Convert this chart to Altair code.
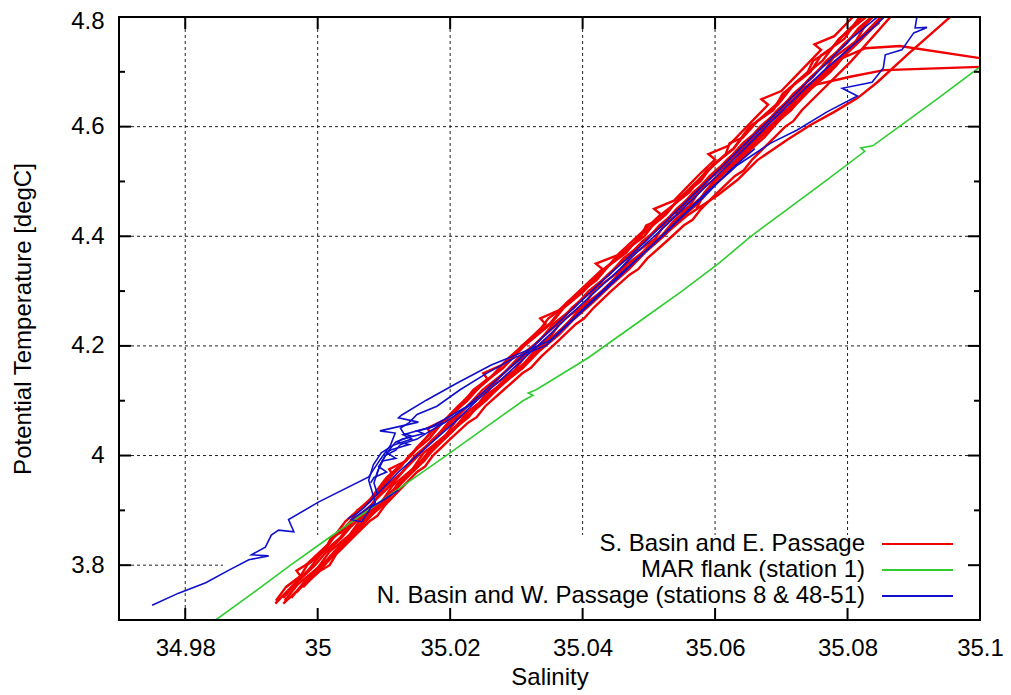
import altair as alt
import pandas as pd

FONT = "Liberation Sans"
W, H = 861, 603

# ---------------- axis / tick definitions ----------------
x_ticks = [34.98, 35.0, 35.02, 35.04, 35.06, 35.08, 35.1]
x_grid = [34.98, 35.0, 35.02, 35.04, 35.06, 35.08]
y_ticks = [3.8, 4.0, 4.2, 4.4, 4.6, 4.8]
y_grid = [3.8, 4.0, 4.2, 4.4, 4.6]
y_minor = [3.9, 4.1, 4.3, 4.5, 4.7]

series_names = [
    "S. Basin and E. Passage",
    "MAR flank (station 1)",
    "N. Basin and W. Passage (stations 8 & 48-51)",
]
series_colors = ["#f00000", "#30cc30", "#1010cc"]

# ---------------- S. Basin and E. Passage (red profiles) ----------------
r1_T = [3.735, 3.76, 3.78, 3.80, 3.83, 3.85, 3.88, 3.90, 3.93, 3.95, 3.98, 4.00, 4.03, 4.06, 4.10, 4.13, 4.16, 4.20, 4.24, 4.27,
        4.30, 4.34, 4.37, 4.40, 4.44, 4.47, 4.50, 4.53, 4.56, 4.60, 4.63, 4.66, 4.70, 4.73, 4.76, 4.80, 4.82]
r1_S = [34.9937, 34.9952, 34.9974, 34.9984, 35.0012, 35.0024, 35.0050, 35.0061, 35.0090, 35.0100, 35.0126, 35.0138, 35.0168,
        35.0188, 35.0226, 35.0248, 35.0280, 35.0312, 35.0352, 35.0372, 35.0402, 35.0432, 35.0466, 35.0486, 35.0526, 35.0546,
        35.0578, 35.0596, 35.0628, 35.0652, 35.0688, 35.0702, 35.0744, 35.0760, 35.0795, 35.0818, 35.0840]

r2_T = [3.74, 3.77, 3.80, 3.82, 3.85, 3.87, 3.90, 3.92, 3.95, 3.97, 4.00, 4.03, 4.06, 4.09, 4.12, 4.15, 4.18, 4.21, 4.24, 4.27,
        4.30, 4.33, 4.36, 4.39, 4.42, 4.45, 4.48, 4.51, 4.54, 4.57, 4.60, 4.63, 4.66, 4.69, 4.72, 4.75, 4.78, 4.81]
r2_S = [34.9948, 34.9970, 34.9996, 35.0010, 35.0036, 35.0050, 35.0075, 35.0088, 35.0114, 35.0128, 35.0152, 35.0174, 35.0202,
        35.0226, 35.0256, 35.0280, 35.0310, 35.0334, 35.0362, 35.0384, 35.0414, 35.0438, 35.0466, 35.0490, 35.0520, 35.0542,
        35.0570, 35.0592, 35.0620, 35.0642, 35.0672, 35.0694, 35.0722, 35.0744, 35.0772, 35.0794, 35.0822, 35.0846]

r3_T = [3.73, 3.76, 3.79, 3.81, 3.84, 3.86, 3.89, 3.91, 3.94, 3.96, 3.99, 4.02, 4.05, 4.08, 4.11, 4.14, 4.17, 4.20, 4.23, 4.26,
        4.29, 4.32, 4.35, 4.38, 4.41, 4.44, 4.47, 4.50, 4.53, 4.56, 4.59, 4.62, 4.65, 4.68, 4.71, 4.74, 4.77, 4.80, 4.82]
r3_S = [34.9948, 34.9975, 34.9996, 35.0014, 35.0036, 35.0054, 35.0076, 35.0092, 35.0116, 35.0130, 35.0156, 35.0176, 35.0206,
        35.0228, 35.0258, 35.0284, 35.0314, 35.0338, 35.0368, 35.0392, 35.0420, 35.0446, 35.0474, 35.0498, 35.0528, 35.0550,
        35.0578, 35.0600, 35.0628, 35.0650, 35.0678, 35.0700, 35.0728, 35.0750, 35.0778, 35.0800, 35.0826, 35.0850, 35.0868]

r4_T = [3.74, 3.77, 3.80, 3.83, 3.86, 3.89, 3.92, 3.95, 3.98, 4.01, 4.04, 4.07, 4.10, 4.13, 4.16, 4.19, 4.22, 4.25, 4.28, 4.31,
        4.34, 4.37, 4.40, 4.43, 4.46, 4.49, 4.52, 4.55, 4.58, 4.61, 4.64, 4.67, 4.70, 4.73, 4.76, 4.79, 4.82]
r4_S = [34.9960, 34.9980, 35.0010, 35.0030, 35.0058, 35.0080, 35.0106, 35.0126, 35.0152, 35.0172, 35.0200, 35.0224, 35.0254,
        35.0278, 35.0310, 35.0334, 35.0364, 35.0388, 35.0416, 35.0442, 35.0470, 35.0494, 35.0522, 35.0546, 35.0574, 35.0596,
        35.0624, 35.0646, 35.0674, 35.0696, 35.0722, 35.0746, 35.0774, 35.0796, 35.0822, 35.0846, 35.0872]

r5_T = [4.10, 4.14, 4.18, 4.22, 4.25, 4.28, 4.31, 4.34, 4.37, 4.40, 4.42, 4.43, 4.46, 4.49, 4.52, 4.55, 4.57, 4.58, 4.61, 4.64,
        4.67, 4.70, 4.72, 4.74, 4.77, 4.80, 4.82]
r5_S = [35.0221, 35.0259, 35.0290, 35.0330, 35.0348, 35.0382, 35.0408, 35.0432, 35.0462, 35.0488, 35.0496, 35.0516, 35.0540,
        35.0564, 35.0590, 35.0616, 35.0622, 35.0642, 35.0664, 35.0692, 35.0712, 35.0740, 35.0748, 35.0774, 35.0796, 35.0822,
        35.0838]

r6_T = [4.810, 4.798, 4.731, 4.681, 4.652, 4.627, 4.603, 4.576, 4.539, 4.503, 4.475, 4.439, 4.393, 4.35, 4.30, 4.25, 4.20,
        4.15, 4.10, 4.05, 4.00, 3.95, 3.90, 3.85, 3.80, 3.76]
r6_S = [35.0966, 35.0953, 35.0890, 35.0845, 35.0815, 35.0780, 35.0744, 35.0709, 35.0664, 35.0634, 35.0604, 35.0559, 35.0514,
        35.0474, 35.0430, 35.0384, 35.0342, 35.0298, 35.0252, 35.0208, 35.0166, 35.0127, 35.0088, 35.0050, 35.0010, 34.9978]

r7_T = [4.45, 4.48, 4.51, 4.54, 4.57, 4.60, 4.63, 4.66, 4.69, 4.72, 4.743, 4.747, 4.725, 4.723]
r7_S = [35.0572, 35.0584, 35.0606, 35.0632, 35.0654, 35.0682, 35.0708, 35.0730, 35.0758, 35.0782, 35.0827, 35.0879, 35.1000,
        35.1041]

r8_T = [4.44, 4.47, 4.50, 4.53, 4.56, 4.59, 4.62, 4.65, 4.672, 4.691, 4.703, 4.709, 4.711]
r8_S = [35.0540, 35.0566, 35.0588, 35.0616, 35.0640, 35.0668, 35.0690, 35.0718, 35.0736, 35.0804, 35.0855, 35.1000, 35.1041]

r9_T = [3.76, 3.78, 3.79, 3.81, 3.835, 3.85, 3.86, 3.885, 3.90, 3.915, 3.94, 3.965, 3.975, 3.99, 4.015, 4.04, 4.05, 4.065,
        4.09, 4.115, 4.14, 4.15, 4.165, 4.19, 4.215, 4.24, 4.25, 4.265, 4.29, 4.315, 4.34, 4.35, 4.365, 4.39, 4.415, 4.44,
        4.45, 4.465, 4.49, 4.515, 4.54, 4.55, 4.565, 4.59, 4.615, 4.64, 4.65, 4.665, 4.69, 4.715, 4.74, 4.75, 4.765, 4.79,
        4.815]
r9_S = [34.9952, 34.9974, 34.9968, 34.9995, 35.0014, 35.0020, 35.0036, 35.0053, 35.0060, 35.0078, 35.0096, 35.0113, 35.0108,
        35.0133, 35.0150, 35.0170, 35.0166, 35.0192, 35.0212, 35.0234, 35.0256, 35.0250, 35.0278, 35.0300, 35.0322, 35.0344,
        35.0336, 35.0364, 35.0386, 35.0408, 35.0430, 35.0420, 35.0452, 35.0474, 35.0496, 35.0518, 35.0508, 35.0538, 35.0558,
        35.0578, 35.0600, 35.0590, 35.0620, 35.0640, 35.0660, 35.0680, 35.0670, 35.0700, 35.0720, 35.0740, 35.0760, 35.0750,
        35.0780, 35.0800, 35.0820]

r10_T = [3.76, 3.79, 3.80, 3.82, 3.85, 3.88, 3.89, 3.91, 3.94, 3.97, 3.98, 4.00, 4.03, 4.06, 4.07, 4.09, 4.12, 4.15, 4.16,
         4.18, 4.21, 4.24, 4.25, 4.27, 4.30, 4.33, 4.34, 4.36, 4.39, 4.42, 4.43, 4.45, 4.48, 4.51, 4.52, 4.54, 4.57, 4.60,
         4.61, 4.63, 4.66, 4.69, 4.72, 4.75, 4.78, 4.81]
r10_S = [34.9976, 35.0004, 35.0018, 35.0028, 35.0053, 35.0078, 35.0090, 35.0102, 35.0126, 35.0150, 35.0162, 35.0174,
         35.0200, 35.0227, 35.0240, 35.0253, 35.0281, 35.0309, 35.0322, 35.0337, 35.0364, 35.0390, 35.0402, 35.0417,
         35.0443, 35.0471, 35.0484, 35.0498, 35.0526, 35.0553, 35.0566, 35.0579, 35.0604, 35.0630, 35.0643, 35.0656,
         35.0681, 35.0706, 35.0718, 35.0731, 35.0756, 35.0781, 35.0806, 35.0828, 35.0850, 35.0872]

r11_T = [3.73, 3.76, 3.79, 3.82, 3.85, 3.88, 3.91, 3.94, 3.97, 4.00, 4.03, 4.06, 4.09, 4.12, 4.15, 4.18, 4.21, 4.24, 4.27,
         4.30, 4.33, 4.36, 4.39, 4.42, 4.45, 4.48, 4.51, 4.54, 4.57, 4.60, 4.63, 4.66, 4.69, 4.72, 4.75, 4.78, 4.81]
r11_S = [34.9936, 34.9960, 34.9985, 35.0005, 35.0034, 35.0053, 35.0081, 35.0100, 35.0128, 35.0147, 35.0176, 35.0197,
         35.0226, 35.0249, 35.0281, 35.0304, 35.0335, 35.0356, 35.0387, 35.0409, 35.0440, 35.0462, 35.0494, 35.0516,
         35.0546, 35.0567, 35.0596, 35.0618, 35.0647, 35.0668, 35.0697, 35.0718, 35.0747, 35.0768, 35.0797, 35.0817,
         35.0846]

r12_T = [3.735, 3.765, 3.795, 3.825, 3.855, 3.885, 3.915, 3.945, 3.975, 4.005, 4.035, 4.065, 4.095, 4.125, 4.155, 4.185,
         4.215, 4.245, 4.275, 4.305, 4.335, 4.365, 4.395, 4.425, 4.455, 4.485, 4.515, 4.545, 4.575, 4.605, 4.635, 4.665,
         4.695, 4.725, 4.755, 4.785]
r12_S = [34.9950, 34.9970, 35.0000, 35.0018, 35.0048, 35.0066, 35.0096, 35.0113, 35.0143, 35.0160, 35.0192, 35.0210,
         35.0243, 35.0262, 35.0297, 35.0316, 35.0350, 35.0368, 35.0402, 35.0420, 35.0455, 35.0474, 35.0509, 35.0526,
         35.0561, 35.0578, 35.0612, 35.0628, 35.0662, 35.0678, 35.0712, 35.0728, 35.0762, 35.0778, 35.0812, 35.0827]

r13_T = [3.80, 3.84, 3.88, 3.92, 3.96, 4.00, 4.04, 4.08, 4.12, 4.16, 4.20, 4.24, 4.28, 4.32, 4.36, 4.40, 4.44, 4.48, 4.52,
         4.56, 4.60, 4.64, 4.68, 4.72, 4.76, 4.80]
r13_S = [34.9982, 35.0017, 35.0042, 35.0079, 35.0104, 35.0141, 35.0169, 35.0208, 35.0235, 35.0280, 35.0308, 35.0350,
         35.0377, 35.0421, 35.0449, 35.0493, 35.0519, 35.0561, 35.0587, 35.0628, 35.0654, 35.0695, 35.0721, 35.0762,
         35.0787, 35.0828]

r14_T = [3.75, 3.79, 3.83, 3.87, 3.91, 3.95, 3.99, 4.03, 4.07, 4.11, 4.15, 4.19, 4.23, 4.27, 4.31, 4.35, 4.39, 4.43, 4.47,
         4.51, 4.55, 4.59, 4.63, 4.67, 4.71, 4.75, 4.79]
r14_S = [34.9968, 34.9996, 35.0036, 35.0060, 35.0099, 35.0122, 35.0161, 35.0186, 35.0228, 35.0254, 35.0299, 35.0327,
         35.0370, 35.0397, 35.0440, 35.0468, 35.0512, 35.0539, 35.0581, 35.0606, 35.0648, 35.0674, 35.0715, 35.0740,
         35.0782, 35.0807, 35.0848]

# ---------------- MAR flank (station 1), green ----------------
g_T = [3.690, 3.700, 3.750, 3.800, 3.850, 3.900, 3.950, 4.000, 4.050, 4.100, 4.110, 4.114, 4.120, 4.178, 4.250, 4.300, 4.350,
       4.400, 4.450, 4.500, 4.555, 4.561, 4.565, 4.600, 4.650, 4.709, 4.730]
g_S = [34.9832, 34.9846, 34.9903, 34.9959, 35.0017, 35.0076, 35.0135, 35.0194, 35.0252, 35.0310, 35.0325, 35.0318, 35.0330,
       35.0408, 35.0492, 35.0550, 35.0605, 35.0654, 35.0710, 35.0766, 35.0826, 35.0820, 35.0838, 35.0878, 35.0935, 35.1000,
       35.1024]

# ---------------- N. Basin and W. Passage, blue ----------------
b1_T = [3.885, 3.895, 3.905, 3.92, 3.94, 3.97, 4.00, 4.03, 4.06, 4.10, 4.14, 4.18, 4.22, 4.26, 4.30, 4.34, 4.38, 4.42, 4.46,
        4.50, 4.54, 4.58, 4.62, 4.66, 4.70, 4.74, 4.78, 4.82]
b1_S = [35.0046, 35.0060, 35.0070, 35.0082, 35.0098, 35.0122, 35.0150, 35.0178, 35.0206, 35.0240, 35.0278, 35.0314, 35.0350,
        35.0384, 35.0420, 35.0456, 35.0490, 35.0526, 35.0560, 35.0594, 35.0628, 35.0661, 35.0694, 35.0728, 35.0762, 35.0800,
        35.0838, 35.0872]

b2_T = [4.810, 4.780, 4.781, 4.776, 4.771, 4.740, 4.731, 4.707, 4.681, 4.670, 4.656, 4.627, 4.594, 4.570, 4.530, 4.48, 4.44,
        4.40, 4.36, 4.32, 4.28, 4.24, 4.21, 4.196, 4.165, 4.132, 4.101, 4.074, 4.069, 4.061, 4.056, 4.045, 4.041, 4.019, 3.992,
        3.961, 3.915, 3.883, 3.861, 3.864, 3.855, 3.833, 3.819, 3.817, 3.810, 3.791, 3.768, 3.749, 3.727]
b2_S = [35.0906, 35.0902, 35.0920, 35.0910, 35.0900, 35.0882, 35.0857, 35.0854, 35.0837, 35.0792, 35.0815, 35.0769, 35.0724,
        35.0684, 35.0634, 35.0587, 35.0553, 35.0519, 35.0484, 35.0447, 35.0412, 35.0377, 35.0351, 35.0325, 35.0262, 35.0210,
        35.0164, 35.0127, 35.0122, 35.0152, 35.0134, 35.0094, 35.0117, 35.0110, 35.0094, 35.0077, 35.0001, 34.9956, 34.9964,
        34.9941, 34.9930, 34.9921, 34.9900, 34.9926, 34.9896, 34.9866, 34.9831, 34.9790, 34.9750]

b3_T = [4.805, 4.76, 4.72, 4.68, 4.64, 4.60, 4.56, 4.52, 4.48, 4.44, 4.40, 4.36, 4.32, 4.28, 4.24, 4.20, 4.16, 4.12, 4.09,
        4.052, 4.038, 4.030, 4.019, 4.005, 3.983, 3.955, 3.914, 3.901, 3.883, 3.879, 3.906, 3.919, 3.937]
b3_S = [35.0850, 35.0805, 35.0772, 35.0738, 35.0705, 35.0672, 35.0638, 35.0605, 35.0571, 35.0537, 35.0503, 35.0468, 35.0431,
        35.0396, 35.0361, 35.0326, 35.0290, 35.0254, 35.0226, 35.0171, 35.0129, 35.0142, 35.0114, 35.0096, 35.0084, 35.0077,
        35.0087, 35.0072, 35.0051, 35.0066, 35.0081, 35.0099, 35.0122]

b4_T = [4.56, 4.52, 4.48, 4.44, 4.40, 4.36, 4.32, 4.28, 4.24, 4.20, 4.18, 4.15, 4.12, 4.09, 4.075, 4.06, 4.05, 4.04, 4.035,
        4.025, 4.01, 3.99, 3.97, 3.95, 3.93]
b4_S = [35.0660, 35.0622, 35.0590, 35.0554, 35.0520, 35.0484, 35.0450, 35.0414, 35.0379, 35.0344, 35.0300, 35.0255, 35.0215,
        35.0180, 35.0150, 35.0138, 35.0125, 35.0130, 35.0142, 35.0118, 35.0108, 35.0097, 35.0090, 35.0085, 35.0090]

b5_T = [4.10, 4.08, 4.06, 4.045, 4.03, 4.02, 4.01, 4.00, 3.99, 3.975, 3.96]
b5_S = [35.0240, 35.0215, 35.0192, 35.0170, 35.0150, 35.0125, 35.0118, 35.0102, 35.0098, 35.0092, 35.0088]

b6_T = [4.06, 4.05, 4.045, 4.04, 4.03, 4.025, 4.02, 4.01, 4.005, 3.995, 3.99, 3.98, 3.97, 3.96, 3.95]
b6_S = [35.0190, 35.0168, 35.0150, 35.0160, 35.0128, 35.0120, 35.0138, 35.0110, 35.0104, 35.0118, 35.0098, 35.0092, 35.0104,
        35.0085, 35.0080]

profiles = [
    ("r1", 0, r1_T, r1_S), ("r2", 0, r2_T, r2_S), ("r3", 0, r3_T, r3_S), ("r4", 0, r4_T, r4_S),
    ("r5", 0, r5_T, r5_S), ("r6", 0, r6_T, r6_S), ("r7", 0, r7_T, r7_S), ("r8", 0, r8_T, r8_S),
    ("r9", 0, r9_T, r9_S), ("r10", 0, r10_T, r10_S), ("r11", 0, r11_T, r11_S), ("r12", 0, r12_T, r12_S),
    ("r13", 0, r13_T, r13_S), ("r14", 0, r14_T, r14_S),
    ("g1", 1, g_T, g_S),
    ("b1", 2, b1_T, b1_S), ("b2", 2, b2_T, b2_S), ("b3", 2, b3_T, b3_S), ("b4", 2, b4_T, b4_S),
    ("b5", 2, b5_T, b5_S), ("b6", 2, b6_T, b6_S),
]

rows = []
for name, grp, T, S in profiles:
    for i, (t, s) in enumerate(zip(T, S, strict=True)):
        rows.append({"profile": name, "grp": grp, "T": t, "S": s, "i": i})
df = pd.DataFrame(rows)

# ---------------- scales / axes ----------------
xs = alt.Scale(domain=[34.97, 35.1], nice=False, zero=False)
ys = alt.Scale(domain=[3.7, 4.8], nice=False, zero=False)
x_axis = alt.Axis(values=x_ticks, format="~g", title="Salinity", grid=False, ticks=False, domain=False,
                  labelFlush=False, labelOverlap=False, labelBound=False, labelPadding=16, titlePadding=5)
y_axis = alt.Axis(values=y_ticks, format="~g", title="Potential Temperature [degC]", grid=False, ticks=False,
                  domain=False, labelFlush=False, labelOverlap=False, labelBound=False, labelPadding=15,
                  titlePadding=35,
                  labelOffset={"condition": {"test": "datum.value >= 4.79", "value": 4}, "value": 0})


def X():
    return alt.X("S:Q", scale=xs, axis=x_axis)


def Y():
    return alt.Y("T:Q", scale=ys, axis=y_axis)


one = pd.DataFrame({"a": [0]})

grid_x = alt.Chart(pd.DataFrame({"S": x_grid})).mark_rule(
    color="#222222", strokeWidth=1, strokeDash=[3, 3]).encode(x=X())
grid_y = alt.Chart(pd.DataFrame({"T": y_grid})).mark_rule(
    color="#222222", strokeWidth=1, strokeDash=[3, 3]).encode(y=Y())

key_box = alt.Chart(one).mark_rect(fill="white", stroke=None).encode(
    x=alt.value(104), x2=alt.value(W), y=alt.value(518), y2=alt.value(H))


def lines(grp, width):
    return alt.Chart(df[df.grp == grp]).mark_line(
        clip=True, color=series_colors[grp], strokeWidth=width, strokeJoin="miter").encode(
        x=X(), y=Y(), detail="profile:N", order="i:Q")


red = lines(0, 2.4)
green = lines(1, 1.6)
blue = lines(2, 1.6)

frame = alt.Chart(one).mark_rect(fill="transparent", stroke="black", strokeWidth=2).encode(
    x=alt.value(0), x2=alt.value(W), y=alt.value(0), y2=alt.value(H))

tick_style = dict(color="black", strokeWidth=2)
xt = pd.DataFrame({"S": x_ticks})
yt = pd.DataFrame({"T": y_ticks})
ym = pd.DataFrame({"T": y_minor})
ticks = [
    alt.Chart(xt).mark_rule(**tick_style).encode(x=X(), y=alt.value(H), y2=alt.value(H - 12)),
    alt.Chart(xt).mark_rule(**tick_style).encode(x=X(), y=alt.value(0), y2=alt.value(12)),
    alt.Chart(yt).mark_rule(**tick_style).encode(y=Y(), x=alt.value(0), x2=alt.value(12)),
    alt.Chart(yt).mark_rule(**tick_style).encode(y=Y(), x=alt.value(W), x2=alt.value(W - 12)),
    alt.Chart(ym).mark_rule(**tick_style).encode(y=Y(), x=alt.value(0), x2=alt.value(6)),
    alt.Chart(ym).mark_rule(**tick_style).encode(y=Y(), x=alt.value(W), x2=alt.value(W - 6)),
]

legend_rows = [527, 553, 579]
legend_layers = []
for name, col, yy in zip(series_names, series_colors, legend_rows):
    legend_layers.append(
        alt.Chart(pd.DataFrame({"label": [name]})).mark_text(
            align="right", baseline="middle", fontSize=24, font=FONT, color="black").encode(
            x=alt.value(746), y=alt.value(yy), text="label:N"))
    legend_layers.append(
        alt.Chart(one).mark_rule(color=col, strokeWidth=2).encode(
            x=alt.value(763), x2=alt.value(834), y=alt.value(yy)))

chart = alt.layer(
    grid_x, grid_y, key_box, red, green, blue, frame, *ticks, *legend_layers
).properties(
    width=W, height=H,
    autosize=alt.AutoSizeParams(type="none"),
    padding={"left": 111, "top": 9, "right": 23, "bottom": 70},
).configure_view(stroke=None).configure_axis(
    labelFont=FONT, titleFont=FONT, labelFontSize=24, titleFontSize=24,
    titleFontWeight="normal", labelColor="black", titleColor="black",
)

chart.save("out.html", embed_options={"renderer": "svg", "actions": False})
